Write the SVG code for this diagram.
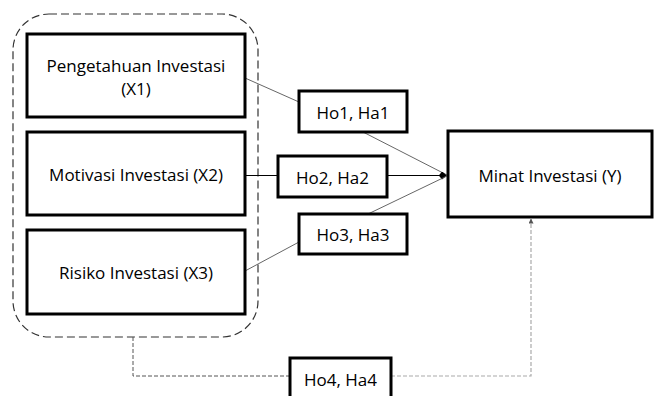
<svg xmlns="http://www.w3.org/2000/svg" width="655" height="396" viewBox="0 0 655 396">
<style>
.box{fill:#fff;stroke:#000;stroke-width:3}
.t{font-family:"Open Sans",sans-serif;font-size:17px;fill:#000;text-anchor:middle;dominant-baseline:central}
.ln{fill:none;stroke:#555;stroke-width:0.9}
.ln2{fill:none;stroke:#000;stroke-width:1}
.dash{fill:none;stroke:#aaa;stroke-width:1.2;stroke-dasharray:4 2}
.dashd{fill:none;stroke:#555;stroke-width:1;stroke-dasharray:4 2}
</style>
<defs>
<marker id="ah" viewBox="0 0 10 10" refX="9" refY="5" markerWidth="8" markerHeight="8" orient="auto" markerUnits="userSpaceOnUse"><path d="M0,5 L4,0 L10,5 L4,10 z" fill="#000"/></marker>
<marker id="ah2" viewBox="0 0 10 10" refX="9" refY="5" markerWidth="5" markerHeight="5" orient="auto" markerUnits="userSpaceOnUse"><path d="M0,0 L10,5 L0,10 z" fill="#555"/></marker>
</defs>
<rect id="group" x="13" y="14" width="245" height="323" rx="36" ry="36" fill="none" stroke="#333" stroke-width="1.2" stroke-dasharray="8 4"/>
<g id="connectors">
<path class="ln" d="M245,78 L299,102"/>
<path class="ln" d="M363,132 L447,175"/>
<path class="ln2" d="M245,175.5 L278,175.5"/>
<path class="ln2" d="M387,175.5 L446,175.5" marker-end="url(#ah)"/>
<path class="ln" d="M368,214 L447,176"/>
<path class="ln" d="M245,271 L299,242"/>
<path class="dashd" d="M133,337 L133,376 L290,376"/>
<path class="dash" d="M391,376 L531,376 L531,219" marker-end="url(#ah2)"/>
</g>
<g id="x1"><rect class="box" x="27" y="34" width="218" height="83"/><text class="t" x="136" y="65">Pengetahuan Investasi</text><text class="t" x="136" y="88">(X1)</text></g>
<g id="x2"><rect class="box" x="27" y="132" width="218" height="83"/><text class="t" x="136" y="174">Motivasi Investasi (X2)</text></g>
<g id="x3"><rect class="box" x="27" y="230" width="218" height="84"/><text class="t" x="136" y="272">Risiko Investasi (X3)</text></g>
<g id="h1"><rect class="box" x="299" y="91" width="108" height="41"/><text class="t" x="353" y="112">Ho1, Ha1</text></g>
<g id="h2"><rect class="box" x="278" y="156" width="109" height="41"/><text class="t" x="332.5" y="177">Ho2, Ha2</text></g>
<g id="h3"><rect class="box" x="299" y="214" width="108" height="40"/><text class="t" x="353" y="234">Ho3, Ha3</text></g>
<g id="h4"><rect class="box" x="290" y="358" width="101" height="42"/><text class="t" x="340.5" y="379">Ho4, Ha4</text></g>
<g id="y"><rect class="box" x="448" y="131" width="204" height="86"/><text class="t" x="550" y="175">Minat Investasi (Y)</text></g>
</svg>
